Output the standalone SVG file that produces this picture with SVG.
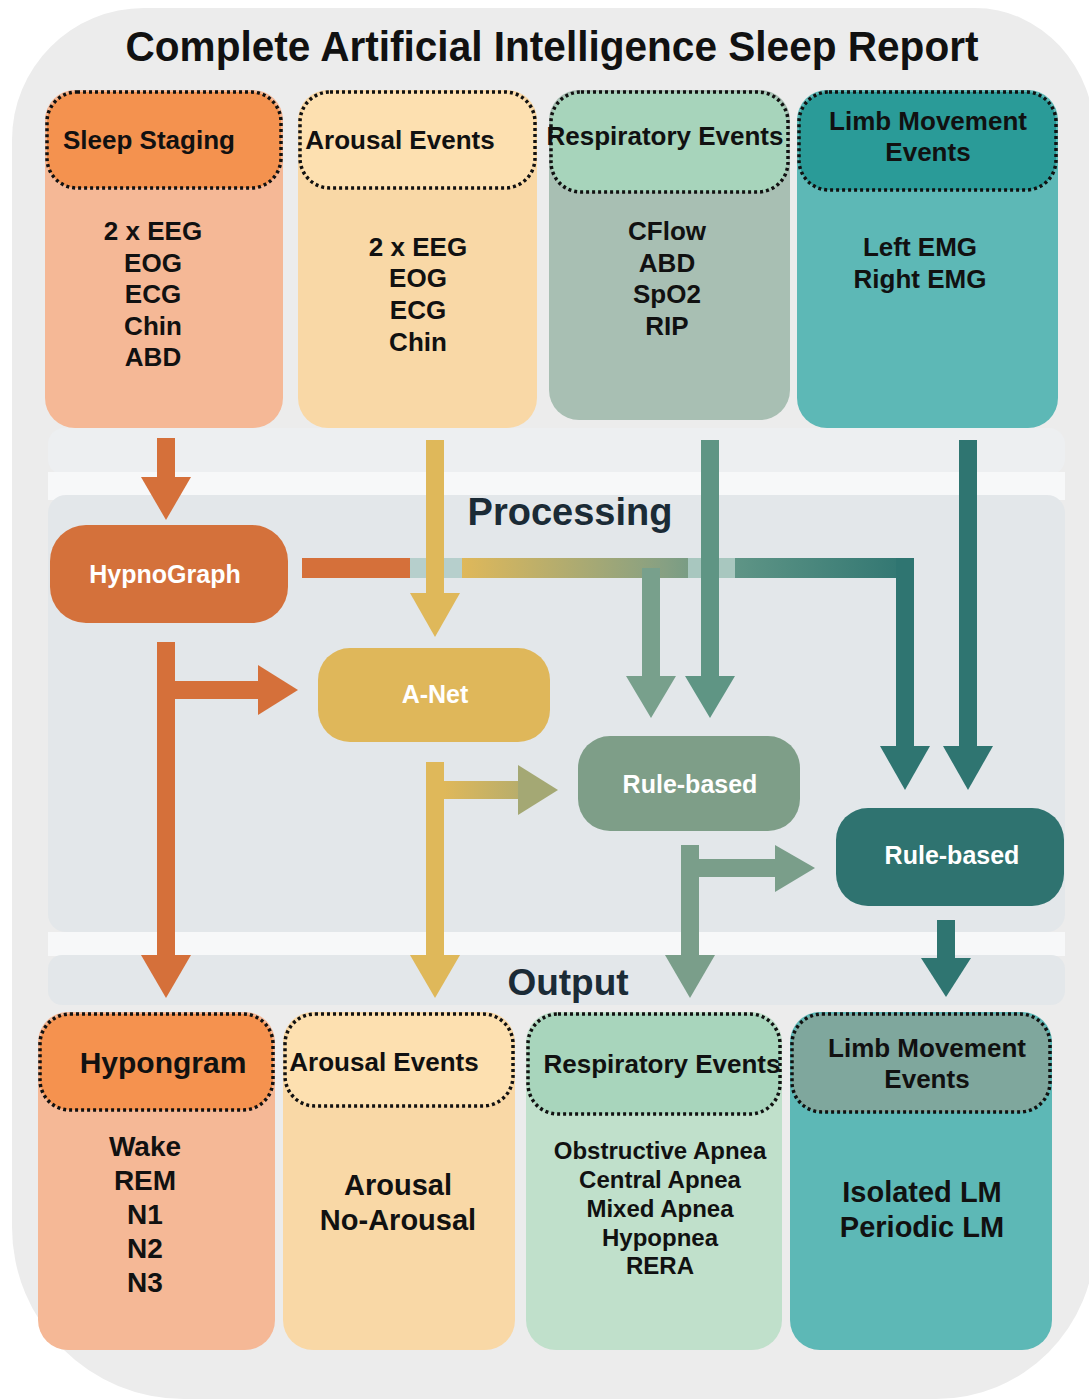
<svg xmlns="http://www.w3.org/2000/svg" width="1089" height="1399" viewBox="0 0 1089 1399">
<defs>
<style>
text{font-family:"Liberation Sans",Arial,sans-serif;font-weight:bold;text-anchor:middle;fill:#111}
.hd{stroke:#111;stroke-width:3.5;stroke-dasharray:3 3}
.w{fill:#fff}
.h26{font-size:26px}
.b26{font-size:26px}
.n25{font-size:25px}
</style>
<linearGradient id="gH" gradientUnits="userSpaceOnUse" x1="462" y1="0" x2="914" y2="0">
<stop offset="0" stop-color="#dfb85a"/>
<stop offset="0.45" stop-color="#86a083"/>
<stop offset="0.6" stop-color="#5f9586"/>
<stop offset="1" stop-color="#2f7571"/>
</linearGradient>
<linearGradient id="gY" gradientUnits="userSpaceOnUse" x1="444" y1="0" x2="558" y2="0">
<stop offset="0" stop-color="#dfb85a"/>
<stop offset="1" stop-color="#a4a874"/>
</linearGradient>
</defs>
<rect width="1089" height="1399" fill="#fff"/>
<path d="M12 140 A132 132 0 0 1 144 8 L975 8 A120 130 0 0 1 1095 138 L1095 1240 A159 159 0 0 1 936 1399 L184 1399 A172 172 0 0 1 12 1227 Z" fill="#ececec"/>
<rect x="48" y="428" width="1017" height="47" rx="16" fill="#edeff1"/>
<rect x="48" y="472" width="1017" height="28" fill="#f7f8f9"/>
<rect x="48" y="495" width="1017" height="437" rx="18" fill="#e3e7ea"/>
<rect x="48" y="932" width="1017" height="24" fill="#f7f8f9"/>
<rect x="48" y="955" width="1017" height="50" rx="14" fill="#e3e7ea"/>
<text x="552" y="61" font-size="42" textLength="853" lengthAdjust="spacingAndGlyphs">Complete Artificial Intelligence Sleep Report</text>

<g id="in-sleep">
<rect x="45" y="90" width="238" height="338" rx="30" fill="#f5b896"/>
<rect class="hd" x="47" y="92" width="234" height="96" rx="30" fill="#f4924f"/>
<text class="h26" x="149" y="149">Sleep Staging</text>
<text class="b26" x="153" y="240">2 x EEG</text>
<text class="b26" x="153" y="272">EOG</text>
<text class="b26" x="153" y="303">ECG</text>
<text class="b26" x="153" y="335">Chin</text>
<text class="b26" x="153" y="366">ABD</text>
</g>
<g id="in-arousal">
<rect x="298" y="90" width="239" height="338" rx="30" fill="#f9d8a6"/>
<rect class="hd" x="300" y="92" width="235" height="96" rx="30" fill="#fde0b0"/>
<text class="h26" x="400" y="149">Arousal Events</text>
<text class="b26" x="418" y="256">2 x EEG</text>
<text class="b26" x="418" y="287">EOG</text>
<text class="b26" x="418" y="319">ECG</text>
<text class="b26" x="418" y="351">Chin</text>
</g>
<g id="in-resp">
<rect x="549" y="90" width="241" height="330" rx="30" fill="#a8bfb3"/>
<rect class="hd" x="551" y="92" width="237" height="100" rx="30" fill="#a7d4bb"/>
<text class="h26" x="665" y="145">Respiratory Events</text>
<text class="b26" x="667" y="240">CFlow</text>
<text class="b26" x="667" y="272">ABD</text>
<text class="b26" x="667" y="303">SpO2</text>
<text class="b26" x="667" y="335">RIP</text>
</g>
<g id="in-limb">
<rect x="797" y="90" width="261" height="338" rx="30" fill="#5db8b6"/>
<rect class="hd" x="799" y="92" width="257" height="98" rx="30" fill="#2a9b98"/>
<text class="h26" x="928" y="130">Limb Movement</text>
<text class="h26" x="928" y="161">Events</text>
<text class="b26" x="920" y="256">Left EMG</text>
<text class="b26" x="920" y="288">Right EMG</text>
</g>

<text x="570" y="525" font-size="38" style="fill:#1b2b36">Processing</text>
<text x="568" y="995" font-size="37" style="fill:#1b2b36">Output</text>

<g id="connectors">
<!-- horizontal from HypnoGraph -->
<rect x="302" y="558" width="108" height="20" fill="#d5703a"/>
<rect x="462" y="558" width="452" height="20" fill="url(#gH)"/>
<rect x="896" y="558" width="18" height="190" fill="#2f7571"/>
<polygon points="880,746 930,746 905,790" fill="#2f7571"/>
<rect x="642" y="568" width="18" height="110" fill="#78a08c"/>
<polygon points="626,676 676,676 651,718" fill="#78a08c"/>
<rect x="410" y="558" width="52" height="20" fill="#b6cfcc"/>
<rect x="688" y="558" width="47" height="20" fill="#a8c7bf"/>
<!-- top verticals -->
<rect x="157" y="438" width="18" height="41" fill="#d5703a"/>
<polygon points="141,477 191,477 166,520" fill="#d5703a"/>
<rect x="426" y="440" width="18" height="155" fill="#dfb85a"/>
<polygon points="410,593 460,593 435,637" fill="#dfb85a"/>
<rect x="701" y="440" width="18" height="238" fill="#5f9584"/>
<polygon points="685,676 735,676 710,718" fill="#5f9584"/>
<rect x="959" y="440" width="18" height="308" fill="#2f7571"/>
<polygon points="943,746 993,746 968,790" fill="#2f7571"/>
<!-- HypnoGraph down -->
<rect x="157" y="642" width="18" height="315" fill="#d5703a"/>
<polygon points="141,955 191,955 166,998" fill="#d5703a"/>
<rect x="175" y="681" width="85" height="18" fill="#d5703a"/>
<polygon points="258,665 258,715 298,690" fill="#d5703a"/>
<!-- A-Net down -->
<rect x="426" y="762" width="18" height="195" fill="#dfb85a"/>
<polygon points="410,955 460,955 435,998" fill="#dfb85a"/>
<rect x="444" y="781" width="76" height="18" fill="url(#gY)"/>
<polygon points="518,765 518,815 558,790" fill="#a4a874"/>
<!-- Rule-based 1 down -->
<rect x="681" y="845" width="18" height="112" fill="#7a9e8a"/>
<polygon points="665,955 715,955 690,998" fill="#7a9e8a"/>
<rect x="699" y="859" width="78" height="18" fill="#7a9e8a"/>
<polygon points="775,845 775,892 815,868" fill="#7a9e8a"/>
<!-- Rule-based 2 down -->
<rect x="937" y="920" width="18" height="40" fill="#2f7571"/>
<polygon points="921,958 971,958 946,997" fill="#2f7571"/>
</g>

<g id="hypnograph">
<rect x="50" y="525" width="238" height="98" rx="36" fill="#d4713b"/>
<text class="n25 w" x="165" y="583">HypnoGraph</text>
</g>
<g id="anet">
<rect x="318" y="648" width="232" height="94" rx="32" fill="#dfb75a"/>
<text class="n25 w" x="435" y="703">A-Net</text>
</g>
<g id="rule1">
<rect x="578" y="736" width="222" height="95" rx="32" fill="#7e9e88"/>
<text class="n25 w" x="690" y="793">Rule-based</text>
</g>
<g id="rule2">
<rect x="836" y="808" width="228" height="98" rx="32" fill="#2f7370"/>
<text class="n25 w" x="952" y="864">Rule-based</text>
</g>

<g id="out-hypnogram">
<rect x="38" y="1012" width="237" height="338" rx="30" fill="#f5b896"/>
<rect class="hd" x="40" y="1014" width="233" height="96" rx="30" fill="#f5924f"/>
<text x="163" y="1073" font-size="30">Hypongram</text>
<text x="145" y="1156" font-size="28">Wake</text>
<text x="145" y="1190" font-size="28">REM</text>
<text x="145" y="1224" font-size="28">N1</text>
<text x="145" y="1258" font-size="28">N2</text>
<text x="145" y="1292" font-size="28">N3</text>
</g>
<g id="out-arousal">
<rect x="283" y="1012" width="232" height="338" rx="30" fill="#f9d8a6"/>
<rect class="hd" x="285" y="1014" width="228" height="92" rx="30" fill="#fde0b0"/>
<text class="h26" x="384" y="1071">Arousal Events</text>
<text x="398" y="1195" font-size="29">Arousal</text>
<text x="398" y="1230" font-size="29">No-Arousal</text>
</g>
<g id="out-resp">
<rect x="526" y="1012" width="256" height="338" rx="30" fill="#c0e0cb"/>
<rect class="hd" x="528" y="1014" width="252" height="100" rx="30" fill="#a8d5bc"/>
<text class="h26" x="662" y="1073">Respiratory Events</text>
<text x="660" y="1159" font-size="24">Obstructive Apnea</text>
<text x="660" y="1188" font-size="24">Central Apnea</text>
<text x="660" y="1217" font-size="24">Mixed Apnea</text>
<text x="660" y="1246" font-size="24">Hypopnea</text>
<text x="660" y="1274" font-size="24">RERA</text>
</g>
<g id="out-limb">
<rect x="790" y="1012" width="262" height="338" rx="30" fill="#5db8b6"/>
<rect class="hd" x="792" y="1014" width="258" height="98" rx="30" fill="#7fa79d"/>
<text class="h26" x="927" y="1057">Limb Movement</text>
<text class="h26" x="927" y="1088">Events</text>
<text x="922" y="1202" font-size="29">Isolated LM</text>
<text x="922" y="1237" font-size="29">Periodic LM</text>
</g>
</svg>
